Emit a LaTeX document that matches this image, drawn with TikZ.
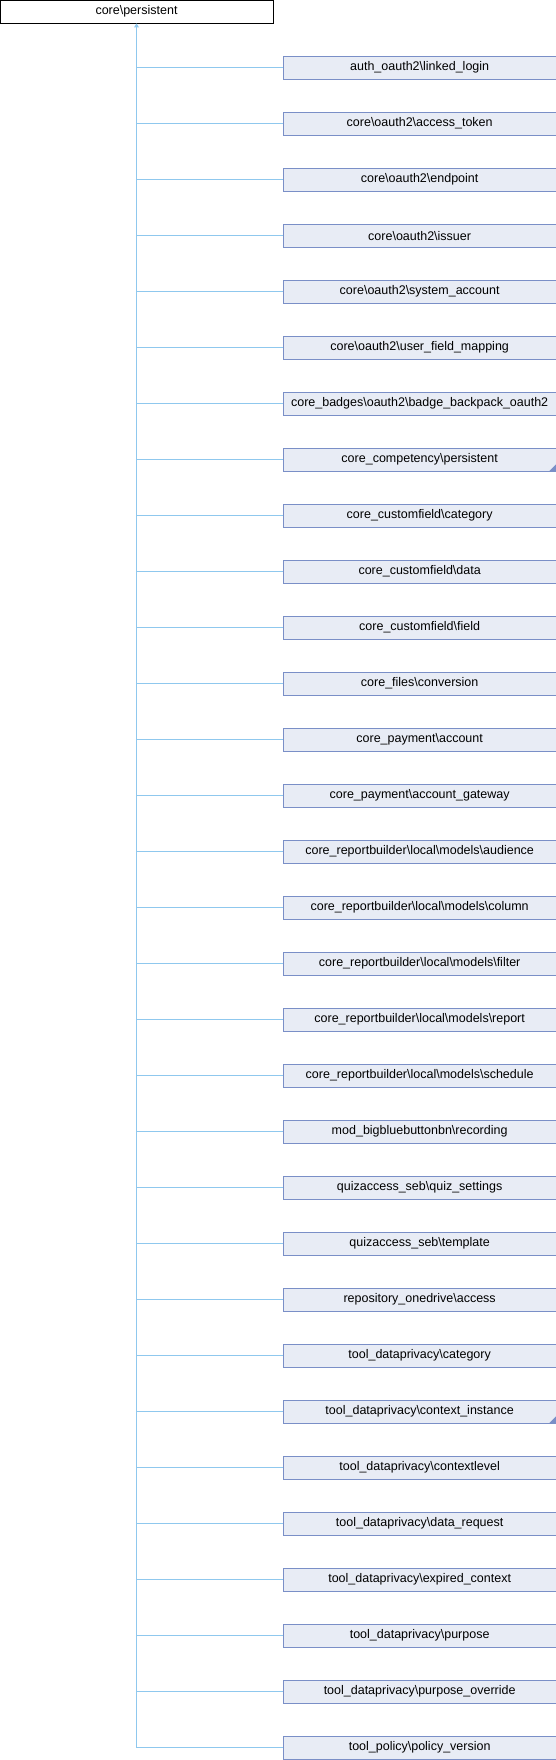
\documentclass[tikz,border=0pt]{standalone}
\usepackage{fontspec}
\setmainfont{Liberation Sans}
\usetikzlibrary{arrows.meta,positioning,chains}
\definecolor{boxfill}{RGB}{232,236,245}
\definecolor{boxline}{RGB}{122,143,199}
\definecolor{edgeblue}{RGB}{143,200,238}
\newcommand{\bsl}{\textbackslash}
\tikzstyle{baseclass}=[draw=black,fill=white,line width=0.9pt,outer sep=0pt,minimum width=273pt,minimum height=23.3pt,inner sep=0pt,font=\fontsize{12.5}{14}\selectfont]
\tikzstyle{derived}=[draw=boxline,fill=boxfill,line width=0.9pt,outer sep=0pt,minimum width=272.7pt,minimum height=23.3pt,inner sep=0pt,font=\fontsize{12.5}{14}\selectfont]
\tikzstyle{inherit}=[draw=edgeblue,line width=0.9pt]

\begin{document}
\begin{tikzpicture}[x=1pt,y=1pt]
		\useasboundingbox (0,0) rectangle (556,-1760);
		\node[baseclass] (base) at (136.5,-11.65) {core\bsl persistent};
		\begin{scope}[start chain=1 going below, node distance=32.7pt]
		\node [on chain=1,derived] (c0) at (419.65,-67.65) {auth\_oauth2\bsl linked\_login};
		\node [on chain=1,derived] (c1) {core\bsl oauth2\bsl access\_token};
		\node [on chain=1,derived] (c2) {core\bsl oauth2\bsl endpoint};
		\node [on chain=1,derived] (c3) {core\bsl oauth2\bsl issuer};
		\node [on chain=1,derived] (c4) {core\bsl oauth2\bsl system\_account};
		\node [on chain=1,derived] (c5) {core\bsl oauth2\bsl user\_field\_mapping};
		\node [on chain=1,derived] (c6) {core\_badges\bsl oauth2\bsl badge\_backpack\_oauth2};
		\node [on chain=1,derived] (c7) {core\_competency\bsl persistent};
		\node [on chain=1,derived] (c8) {core\_customfield\bsl category};
		\node [on chain=1,derived] (c9) {core\_customfield\bsl data};
		\node [on chain=1,derived] (c10) {core\_customfield\bsl field};
		\node [on chain=1,derived] (c11) {core\_files\bsl conversion};
		\node [on chain=1,derived] (c12) {core\_payment\bsl account};
		\node [on chain=1,derived] (c13) {core\_payment\bsl account\_gateway};
		\node [on chain=1,derived] (c14) {core\_reportbuilder\bsl local\bsl models\bsl audience};
		\node [on chain=1,derived] (c15) {core\_reportbuilder\bsl local\bsl models\bsl column};
		\node [on chain=1,derived] (c16) {core\_reportbuilder\bsl local\bsl models\bsl filter};
		\node [on chain=1,derived] (c17) {core\_reportbuilder\bsl local\bsl models\bsl report};
		\node [on chain=1,derived] (c18) {core\_reportbuilder\bsl local\bsl models\bsl schedule};
		\node [on chain=1,derived] (c19) {mod\_bigbluebuttonbn\bsl recording};
		\node [on chain=1,derived] (c20) {quizaccess\_seb\bsl quiz\_settings};
		\node [on chain=1,derived] (c21) {quizaccess\_seb\bsl template};
		\node [on chain=1,derived] (c22) {repository\_onedrive\bsl access};
		\node [on chain=1,derived] (c23) {tool\_dataprivacy\bsl category};
		\node [on chain=1,derived] (c24) {tool\_dataprivacy\bsl context\_instance};
		\node [on chain=1,derived] (c25) {tool\_dataprivacy\bsl contextlevel};
		\node [on chain=1,derived] (c26) {tool\_dataprivacy\bsl data\_request};
		\node [on chain=1,derived] (c27) {tool\_dataprivacy\bsl expired\_context};
		\node [on chain=1,derived] (c28) {tool\_dataprivacy\bsl purpose};
		\node [on chain=1,derived] (c29) {tool\_dataprivacy\bsl purpose\_override};
		\node [on chain=1,derived] (c30) {tool\_policy\bsl policy\_version};
		\end{scope}
		
		% classes that have further children
		\fill[boxline] (c7.south east) -- ++(-7,0) -- ++(7,7) -- cycle;
		\fill[boxline] (c24.south east) -- ++(-7,0) -- ++(7,7) -- cycle;
		
		\draw[inherit,{Triangle[length=4pt,width=4.5pt]}-] (base.south) -- (base.south |- c30.west);
		\foreach \i in {0,...,30}
			\draw[inherit] (base.south |- c\i.west) -- (c\i.west);
		\end{tikzpicture}
\end{document}
